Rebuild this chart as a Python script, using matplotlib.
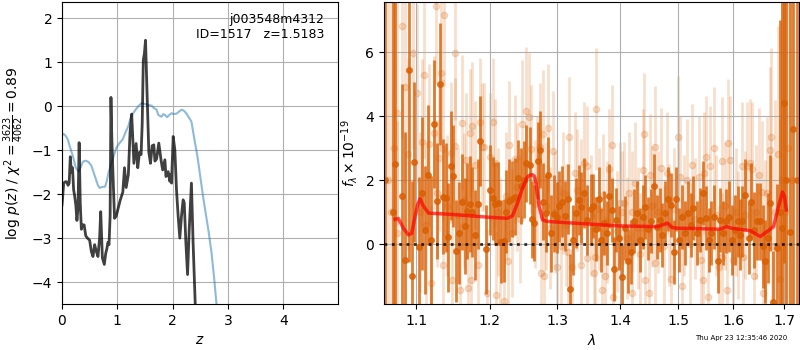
import matplotlib
matplotlib.use("Agg")
import matplotlib.pyplot as plt
import numpy as np
from matplotlib.ticker import FixedLocator, FormatStrFormatter, NullLocator, NullFormatter

# ---------------- left panel: p(z) ----------------
z_pz = [0.00, 0.01, 0.03, 0.06, 0.085, 0.11, 0.13, 0.15, 0.17, 0.19, 0.21, 0.23, 0.25, 0.27, 0.29,
        0.31, 0.33, 0.35, 0.37, 0.40, 0.43, 0.46, 0.50, 0.53, 0.56, 0.59, 0.62, 0.65, 0.68, 0.70,
        0.73, 0.765, 0.79, 0.81, 0.83, 0.85, 0.87, 0.885, 0.90, 0.92, 0.95, 0.98, 1.00, 1.05, 1.10,
        1.13, 1.16, 1.20, 1.23, 1.26, 1.30, 1.34, 1.37, 1.40, 1.43, 1.45, 1.47, 1.49, 1.51, 1.54,
        1.57, 1.60, 1.63, 1.66, 1.68, 1.71, 1.75, 1.79, 1.82, 1.86, 1.88, 1.92, 1.95, 1.97, 1.98,
        2.01, 2.04, 2.07, 2.10, 2.13, 2.16, 2.19, 2.21, 2.24, 2.27, 2.30, 2.34, 2.37, 2.41, 2.45]
logp = [-2.25, -2.1, -1.75, -1.72, -1.72, -1.8, -1.75, -1.15, -1.5, -1.4, -1.9, -2.05, -2.25, -2.6, -2.3,
        -0.83, -2.2, -2.8, -2.7, -2.7, -2.95, -3.0, -3.05, -3.3, -3.42, -3.15, -3.3, -3.42, -3.0, -2.4,
        -3.45, -3.6, -3.35, -3.25, -3.1, -3.15, -2.5, 0.2, -0.7, -1.5, -2.55, -2.5, -2.4, -2.15, -1.95,
        -1.4, -1.85, -1.55, -0.6, -0.18, -1.3, -0.85, -1.4, -1.05, -1.1, -0.4, 1.05, 1.2, 1.5, 0.2,
        -1.05, -1.3, -0.9, -0.88, -1.25, -1.2, -0.84, -1.22, -1.45, -1.22, -1.6, -1.49, -1.71, -1.55, -1.75,
        -0.69, -0.99, -1.9, -2.5, -3.0, -2.5, -2.13, -2.2, -3.11, -3.83, -2.81, -1.75, -3.1, -4.55, -5.5]

z_chi = [0.00, 0.02, 0.05, 0.10, 0.15, 0.20, 0.25, 0.30, 0.34, 0.38, 0.43, 0.48, 0.53, 0.57, 0.61,
         0.65, 0.68, 0.72, 0.78, 0.81, 0.84, 0.88, 0.93, 0.98, 1.04, 1.10, 1.14, 1.20, 1.24, 1.28,
         1.32, 1.38, 1.44, 1.50, 1.56, 1.62, 1.67, 1.71, 1.74, 1.77, 1.80, 1.83, 1.86, 1.90, 1.94,
         1.98, 2.02, 2.07, 2.12, 2.16, 2.20, 2.24, 2.30, 2.34, 2.40, 2.45, 2.50, 2.55, 2.60, 2.65,
         2.70, 2.75, 2.80]
chi_scaled = [-0.68, -0.63, -0.65, -0.74, -0.95, -1.15, -1.4, -1.49, -1.38, -1.26, -1.24, -1.27, -1.35, -1.5, -1.65,
              -1.8, -1.86, -1.84, -1.83, -1.7, -1.52, -1.35, -1.15, -0.95, -0.84, -0.75, -0.62, -0.45, -0.27, -0.17,
              -0.1, 0.0, 0.07, 0.05, 0.03, 0.01, -0.05, -0.08, -0.2, -0.22, -0.24, -0.18, -0.2, -0.25, -0.2,
              -0.16, -0.18, -0.17, -0.12, -0.08, -0.1, -0.15, -0.27, -0.35, -0.8, -1.15, -1.6, -2.05, -2.45, -2.85,
              -3.3, -3.9, -4.6]

# ---------------- right panel: spectrum ----------------
# binned (dark) points: wavelength, flux, error
lam_bin = [1.0605, 1.0700, 1.0728, 1.0820, 1.0856, 1.0907, 1.0941, 1.0971, 1.1041, 1.1081, 1.1118, 1.1155,
           1.1195, 1.1231, 1.1277, 1.1312, 1.1349, 1.1389, 1.1420, 1.1457, 1.1494, 1.1535, 1.1566, 1.1616,
           1.1647, 1.1684, 1.1719, 1.1752, 1.1797, 1.1833, 1.1864, 1.1946, 1.2000, 1.2040, 1.2075, 1.2115,
           1.2160, 1.2199, 1.2239, 1.2280, 1.2324, 1.2369, 1.2408, 1.2448, 1.2488, 1.2527, 1.2578, 1.2608,
           1.2646, 1.2697, 1.2736, 1.2776, 1.2821, 1.2861, 1.2906, 1.2945, 1.2985, 1.3031, 1.3074, 1.3110,
           1.3162, 1.3193, 1.3240, 1.3283, 1.3330, 1.3372, 1.3413, 1.3460, 1.3518, 1.3560, 1.3601, 1.3648,
           1.3690, 1.3738, 1.3780, 1.3816, 1.3859, 1.3899, 1.3937, 1.3989, 1.4035, 1.4087, 1.4133, 1.4180,
           1.4232, 1.4279, 1.4325, 1.4377, 1.4424, 1.4471, 1.4524, 1.4569, 1.4616, 1.4669, 1.4716, 1.4761,
           1.4814, 1.4861, 1.4918, 1.4960, 1.5005, 1.5067, 1.5114, 1.5168, 1.5217, 1.5266, 1.5325, 1.5385,
           1.5439, 1.5488, 1.5548, 1.5597, 1.5651, 1.5711, 1.5759, 1.5819, 1.5868, 1.5927, 1.5982, 1.6034,
           1.6099, 1.6139, 1.6178, 1.6231, 1.6296, 1.6343, 1.6408, 1.6462, 1.6513, 1.6580, 1.6625, 1.6675,
           1.6724, 1.6777, 1.6856, 1.6910, 1.6960, 1.7000, 1.7040, 1.7108, 1.7178, 1.7265]
flux_bin = [2.0, 1.0, 2.5, 1.51, -0.49, 5.45, -1.01, 2.56, -0.09, 1.59, 0.45, 2.16,
            0.13, 3.76, 1.35, 5.0, 1.49, 1.45, 0.22, 2.45, 2.14, -0.21, 0.34, 1.31,
            0.57, 1.05, 1.26, 1.0, 0.29, 1.25, 3.22, -0.16, 1.7, 1.43, 1.26, 1.28,
            0.08, 0.11, 1.02, 1.36, 1.41, 1.49, 2.06, 1.82, 2.01, 2.53, 2.46, 0.78,
            0.66, 2.61, 2.95, 1.33, 0.97, 2.16, 0.34, 0.95, 0.84, 1.18, 1.33, 0.88,
            1.41, -1.41, 0.13, 0.97, 1.38, 1.15, 1.6, 0.75, 1.09, 1.2, 0.47, 1.4,
            0.13, 0.66, 0.34, 1.5, 1.08, -0.78, 0.76, 0.18, -1.03, 0.52, -0.54, -0.23,
            0.71, 0.99, 0.13, 0.86, 1.15, 0.49, 0.71, 1.82, 0.55, 0.76, 0.28, 0.97,
            1.4, 1.24, -0.23, 1.4, 0.13, 0.86, 0.34, 0.97, 0.6, 1.12, 0.34, 0.76,
            1.59, 0.81, 0.13, 0.34, 0.86, -0.54, 0.76, 0.34, 0.73, 0.86, 0.13, 0.44,
            0.71, 0.3, 0.71, 1.55, 0.18, 1.33, 0.44, 0.71, 0.71, -0.07, -0.54, 0.2,
            1.29, -1.8, -0.11, 1.0, 0.5, 4.4, 2.0, 0.38, 3.6, 2.0]
err_bin = [12, 12, 12, 3.5, 4.0, 6.0, 3.0, 2.5, 2.2, 2.4, 2.0, 2.2,
           2.0, 2.0, 1.8, 1.9, 1.8, 1.7, 1.7, 1.7, 1.6, 1.6, 1.6, 1.5,
           1.5, 1.5, 1.5, 1.4, 1.4, 1.4, 1.4, 1.4, 1.4, 1.3, 1.3, 1.3,
           1.3, 1.3, 1.3, 1.3, 1.2, 1.2, 1.2, 1.2, 1.2, 1.2, 1.2, 1.2,
           1.2, 1.2, 1.2, 1.2, 1.2, 1.2, 1.2, 1.2, 1.1, 1.1, 1.1, 1.1,
           1.1, 1.1, 1.1, 1.1, 1.1, 1.1, 1.1, 1.1, 1.1, 1.0, 1.0, 1.0,
           1.0, 1.0, 1.0, 1.0, 1.0, 1.0, 1.0, 1.0, 1.0, 1.0, 1.0, 1.0,
           1.0, 1.0, 1.0, 1.0, 1.0, 1.0, 1.0, 1.0, 1.0, 1.0, 1.0, 1.0,
           1.0, 1.0, 1.0, 1.0, 1.0, 1.0, 1.0, 1.0, 1.0, 1.0, 1.0, 1.0,
           1.0, 1.0, 1.0, 1.0, 1.0, 1.0, 1.0, 1.0, 1.0, 1.1, 1.1, 1.1,
           1.1, 1.1, 1.1, 1.1, 1.1, 1.2, 1.2, 1.2, 1.2, 1.3, 1.3, 1.4,
           1.5, 1.6, 2.0, 6.0, 8.0, 5.0, 10.0, 8.0, 10.0, 12.0]

# unbinned (light) points
lam_pix = [1.0640, 1.0680, 1.0715, 1.0750, 1.0758, 1.0814, 1.0856, 1.0898, 1.0962, 1.1014, 1.1050, 1.1073,
           1.1095, 1.1130, 1.1163, 1.1199, 1.1231, 1.1258, 1.1277, 1.1298, 1.1331, 1.1352, 1.1358, 1.1366,
           1.1410, 1.1457, 1.1471, 1.1511, 1.1518, 1.1550, 1.1583, 1.1616, 1.1637, 1.1670, 1.1692, 1.1719,
           1.1738, 1.1752, 1.1797, 1.1837, 1.1855, 1.1887, 1.1923, 1.1964, 1.2000, 1.2040, 1.2075, 1.2090,
           1.2120, 1.2149, 1.2199, 1.2230, 1.2258, 1.2273, 1.2324, 1.2369, 1.2399, 1.2430, 1.2467, 1.2523,
           1.2572, 1.2597, 1.2657, 1.2690, 1.2727, 1.2746, 1.2781, 1.2795, 1.2830, 1.2855, 1.2890, 1.2930,
           1.2960, 1.2996, 1.3047, 1.3090, 1.3130, 1.3162, 1.3177, 1.3231, 1.3267, 1.3310, 1.3361, 1.3369,
           1.3413, 1.3455, 1.3466, 1.3530, 1.3581, 1.3597, 1.3612, 1.3660, 1.3702, 1.3727, 1.3754, 1.3790,
           1.3821, 1.3868, 1.3885, 1.3950, 1.3990, 1.4035, 1.4063, 1.4110, 1.4150, 1.4192, 1.4200, 1.4250,
           1.4300, 1.4340, 1.4384, 1.4395, 1.4424, 1.4482, 1.4511, 1.4541, 1.4581, 1.4590, 1.4640, 1.4686,
           1.4743, 1.4791, 1.4830, 1.4861, 1.4920, 1.4988, 1.5036, 1.5067, 1.5100, 1.5145, 1.5200, 1.5248,
           1.5300, 1.5367, 1.5398, 1.5446, 1.5457, 1.5506, 1.5530, 1.5578, 1.5638, 1.5680, 1.5728, 1.5790,
           1.5800, 1.5850, 1.5880, 1.5909, 1.5940, 1.6000, 1.6050, 1.6100, 1.6166, 1.6186, 1.6220, 1.6265,
           1.6316, 1.6363, 1.6395, 1.6440, 1.6493, 1.6560, 1.6570, 1.6625, 1.6659, 1.6724, 1.6738, 1.6757,
           1.6810, 1.6868, 1.6921, 1.6960, 1.7020, 1.7080, 1.7150]
flux_pix = [2.0, 1.0, 3.0, 4.09, 0.34, 6.82, 4.9, 2.82, 5.97, 4.72, 1.0, 3.18,
            5.28, 0.6, 3.12, -1.22, 3.47, 7.45, 1.59, 2.7, 5.34, 2.97, -0.65, 7.15,
            1.2, 2.86, -1.12, 5.97, 3.08, 0.9, -1.43, 3.8, 1.38, 2.63, -1.38, 3.49,
            -1.12, 3.68, 2.47, -0.65, 3.83, 3.05, 3.05, -1.53, 2.74, 3.83, 2.53, -1.58,
            1.0, 0.08, -1.79, 1.5, -0.54, 3.1, 0.34, 2.66, 1.8, 0.8, 3.76, 4.17,
            3.97, 2.97, 1.26, 2.0, 3.05, -0.89, 3.44, -1.01, 1.2, 3.63, 0.5, 2.9,
            1.0, -0.7, -0.07, 1.6, 0.6, -0.23, 3.34, -0.7, 2.22, 1.7, -0.65, 1.38,
            2.53, -0.44, 2.43, 0.9, -0.91, -0.39, 4.22, 1.1, -1.43, 1.54, -1.01, 0.7,
            2.34, 3.09, -1.64, 0.4, 1.3, 1.02, 1.28, 0.2, 1.6, 1.02, -1.53, 1.91,
            0.5, -0.3, 2.32, 3.44, -1.12, -1.53, 2.17, 1.18, 3.05, -0.59, 1.0, 2.37,
            -0.07, 2.22, 0.6, -1.09, 1.1, 3.36, 2.11, -1.32, 0.9, 2.01, 0.0, 2.48,
            0.8, 2.11, -0.49, -1.12, 2.22, 2.74, -1.64, 2.43, 3.0, 0.9, -0.7, 2.6,
            -0.39, 1.2, -1.43, 3.16, 2.63, -0.49, 1.0, 0.3, 2.45, -0.39, 0.9, 2.43,
            2.53, 2.34, -1.01, 1.0, 2.17, 1.64, -1.53, 0.34, 1.59, 2.95, 3.34, -0.07,
            1.0, 2.82, -1.09, 2.0, 1.0, 3.0, 2.0]
err_pix = [12, 12, 12, 3.5, 3.5, 3.5, 3.0, 3.0, 3.0, 2.8, 2.5, 2.6,
           2.6, 2.5, 2.5, 2.4, 2.4, 2.4, 2.3, 2.3, 2.3, 2.2, 2.2, 2.2,
           2.2, 2.2, 2.2, 2.1, 2.1, 2.1, 2.1, 2.1, 2.1, 2.1, 2.0, 2.0,
           2.0, 2.0, 2.0, 2.0, 2.0, 2.0, 2.0, 2.0, 2.0, 2.0, 2.0, 2.0,
           2.0, 2.0, 2.0, 2.0, 2.0, 2.0, 2.0, 2.0, 2.0, 2.0, 2.0, 2.0,
           2.0, 2.0, 2.0, 2.0, 2.0, 2.0, 2.0, 2.0, 2.0, 2.0, 1.9, 1.9,
           1.9, 1.9, 1.9, 1.9, 1.9, 1.9, 1.9, 1.9, 1.9, 1.9, 1.9, 1.9,
           1.9, 1.9, 1.9, 1.9, 1.9, 1.9, 1.9, 1.9, 1.9, 1.9, 1.9, 1.9,
           1.9, 1.9, 1.9, 1.9, 1.9, 1.9, 1.9, 1.9, 1.9, 1.9, 1.9, 1.9,
           1.9, 1.9, 1.9, 1.9, 1.9, 1.9, 1.9, 1.9, 1.9, 1.9, 1.9, 1.9,
           1.9, 1.9, 1.9, 1.9, 1.9, 1.9, 1.9, 1.9, 1.9, 1.9, 1.9, 1.9,
           1.9, 1.9, 1.9, 1.9, 1.9, 1.9, 1.9, 1.9, 1.9, 1.9, 1.9, 2.0,
           2.0, 2.0, 2.0, 2.0, 2.0, 2.0, 2.0, 2.0, 2.0, 2.0, 2.0, 2.0,
           2.0, 2.1, 2.1, 2.1, 2.1, 2.2, 2.2, 2.3, 2.4, 2.6, 2.8, 2.8,
           3.5, 4.0, 5.0, 10.0, 10.0, 10.0, 10.0]

# best-fit model
lam_model = [1.0728, 1.0770, 1.0834, 1.0898, 1.0941, 1.0983, 1.1020, 1.1050, 1.1095, 1.1163, 1.1412,
             1.2000, 1.2249, 1.2324, 1.2399, 1.2473, 1.2548, 1.2600, 1.2623, 1.2650, 1.2672, 1.2721,
             1.2772, 1.2846, 1.3989, 1.4629, 1.4750, 1.4803, 1.4890, 1.4977, 1.5759, 1.5880, 1.5970,
             1.6327, 1.6524, 1.6656, 1.6786, 1.6885, 1.6964, 1.7006, 1.7041]
flux_model = [0.78, 0.8, 0.5, 0.29, 0.34, 0.86, 1.25, 1.42, 1.18, 0.97, 0.94,
              0.84, 0.81, 0.88, 1.28, 1.75, 2.11, 2.17, 2.17, 2.12, 1.91, 1.18,
              0.76, 0.71, 0.57, 0.55, 0.62, 0.66, 0.52, 0.5, 0.47, 0.55, 0.5,
              0.42, 0.24, 0.39, 0.55, 1.18, 1.63, 1.49, 1.07]

xticks_lam = [1.1, 1.2, 1.3, 1.4, 1.5, 1.6, 1.7]

orange = '#d95f02'

fig = plt.figure(figsize=(8, 3.5), dpi=100)
ax1 = fig.add_axes([0.0775, 0.1314, 0.345, 0.8629])
ax2 = fig.add_axes([0.48, 0.1314, 0.5188, 0.8629])

# left
ax1.plot(z_chi, chi_scaled, color='#1f77b4', alpha=0.5, lw=1.5)
ax1.plot(z_pz, logp, color='k', alpha=0.75, lw=2)
ax1.set_xlim(0, 4.99)
ax1.set_ylim(-4.5, 2.37)
ax1.set_xticks([0, 1, 2, 3, 4])
ax1.grid(True)
ax1.set_xlabel(r'$z$')
ax1.set_ylabel(r'log $p(z)$ / $\chi^2=\frac{3623}{4062}=0.89$')
ax1.text(0.95, 0.965, 'j003548m4312\nID=1517   z=1.5183', ha='right', va='top',
         transform=ax1.transAxes, fontsize=9)

# right
ax2.errorbar(lam_pix, flux_pix, yerr=err_pix, marker='o', ms=4.5, ls='none',
             color=orange, alpha=0.2, elinewidth=2, zorder=1)
ax2.errorbar(lam_bin, flux_bin, yerr=err_bin, marker='o', ms=4, ls='none',
             color=orange, alpha=0.8, elinewidth=2, zorder=2)
ax2.plot(lam_model, flux_model, color='r', alpha=0.7, lw=2.5, zorder=3)
ax2.axhline(0, color='k', ls=':', lw=2, alpha=0.8, zorder=4)
ax2.set_xscale('log')
ax2.set_xlim(1.0588, 1.730)
ax2.set_ylim(-1.87, 7.57)
ax2.xaxis.set_major_locator(FixedLocator(xticks_lam))
ax2.xaxis.set_major_formatter(FormatStrFormatter('%.1f'))
ax2.xaxis.set_minor_locator(NullLocator())
ax2.xaxis.set_minor_formatter(NullFormatter())
ax2.set_yticks([0, 2, 4, 6])
ax2.grid(True)
ax2.set_xlabel(r'$\lambda$')
ax2.set_ylabel(r'$f_\lambda\times10^{-19}$')

fig.text(0.984, 0.025, 'Thu Apr 23 12:35:46 2020', ha='right', va='bottom', fontsize=5)

fig.savefig('out.png', dpi=100)
